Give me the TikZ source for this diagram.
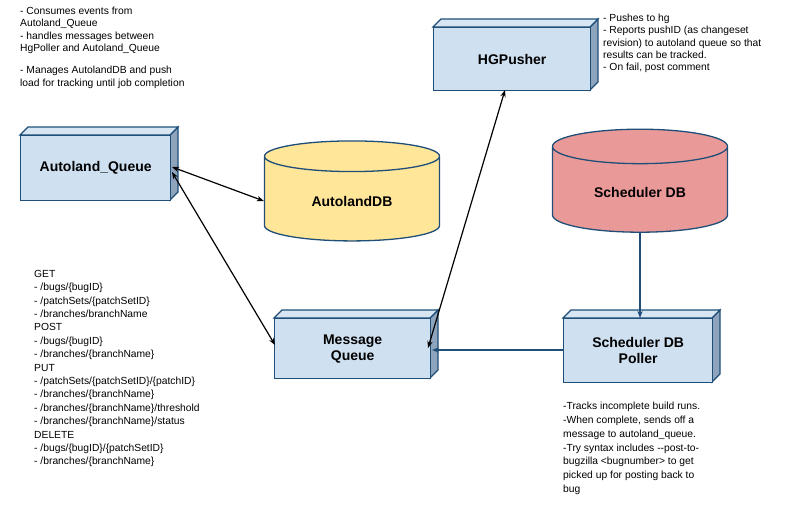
\documentclass[tikz,border=0pt]{standalone}
\usepackage{fontspec}
\setmainfont{Liberation Sans}
\usetikzlibrary{shapes.geometric,arrows.meta}
\definecolor{boxfill}{HTML}{CFE0F1}
\definecolor{boxedge}{HTML}{1F4E79}
\definecolor{sidefill}{HTML}{8EA4BC}
\definecolor{ylw}{HTML}{FFE699}
\definecolor{redc}{HTML}{EA9999}
\begin{document}
\begin{tikzpicture}[x=1pt,y=-1pt,
  box/.style={draw=boxedge,line width=1.3pt,fill=boxfill,minimum width=#1,align=center,font=\bfseries\fontsize{14}{16}\selectfont,inner sep=0pt},
  cyl/.style={cylinder,shape border rotate=90,aspect=0.35,draw=boxedge,line width=1.3pt,minimum width=175pt,minimum height=100pt,font=\bfseries\fontsize{14}{16}\selectfont},
  note/.style={align=left,anchor=north west,font=\fontsize{10.3}{12.3}\selectfont,inner sep=0pt},
  bi/.style={{Stealth[length=7pt]}-{Stealth[length=7pt]},line width=1.2pt},
  blu/.style={-{Stealth[length=7pt]},line width=1.2pt,draw=boxedge}]
\useasboundingbox (0,0) rectangle (800,530);
\newcommand{\threeD}[4]{%
  \fill[sidefill,draw=boxedge,line width=1.1pt] (#3,#2) -- (#3+8,#2-8) -- (#3+8,#4-8) -- (#3,#4) -- cycle;
  \fill[boxfill!80!white,draw=boxedge,line width=1.1pt] (#1,#2) -- (#1+8,#2-8) -- (#3+8,#2-8) -- (#3,#2) -- cycle;
}
\threeD{20}{135}{170}{200}
\node[box,minimum width=150pt,minimum height=65pt,anchor=north west] (aq) at (20,135) {Autoland\_Queue};
\threeD{433}{27}{590}{90}
\node[box,minimum width=157pt,minimum height=63pt,anchor=north west] (hg) at (433,27) {HGPusher};
\threeD{274}{318}{430}{378}
\node[box,minimum width=156pt,minimum height=60pt,anchor=north west] (mq) at (274,318) {Message\\Queue};
\threeD{563}{318}{712}{382}
\node[box,minimum width=149pt,minimum height=64pt,anchor=north west] (po) at (563,318) {Scheduler DB\\Poller};
\node[cyl,fill=ylw] (adb) at (352,201) {AutolandDB};
\node[cyl,fill=redc,minimum height=103pt] (sdb) at (640,192) {Scheduler DB};
\draw[bi] (172,167) -- (adb.west);
\draw[bi] (172,172) -- (275,345);
\draw[bi] (428,348) -- (505,90);
\draw[blu] (sdb.south) -- (640,318);
\draw[blu] (563,350) -- (432,350);
\node[note] (n1) at (20,7) {- Consumes events from\\Autoland\_Queue\\- handles messages between\\HgPoller and Autoland\_Queue\\[10pt]- Manages AutolandDB and push\\load for tracking until job completion};
\node[note] (n2) at (603,14) {- Pushes to hg\\- Reports pushID (as changeset\\revision) to autoland queue so that\\results can be tracked.\\- On fail, post comment};
\node[note,font=\fontsize{10.3}{13.4}\selectfont] (n3) at (34,270) {GET\\- /bugs/\{bugID\}\\- /patchSets/\{patchSetID\}\\- /branches/branchName\\POST\\- /bugs/\{bugID\}\\- /branches/\{branchName\}\\PUT\\- /patchSets/\{patchSetID\}/\{patchID\}\\- /branches/\{branchName\}\\- /branches/\{branchName\}/threshold\\- /branches/\{branchName\}/status\\DELETE\\- /bugs/\{bugID\}/\{patchSetID\}\\- /branches/\{branchName\}};
\node[note,font=\fontsize{10.3}{13.8}\selectfont] (n4) at (563,402) {-Tracks incomplete build runs.\\-When complete, sends off a\\message to autoland\_queue.\\ -Try syntax includes -{}-post-to-\\bugzilla <bugnumber> to get\\picked up for posting back to\\bug};
\end{tikzpicture}
\end{document}
